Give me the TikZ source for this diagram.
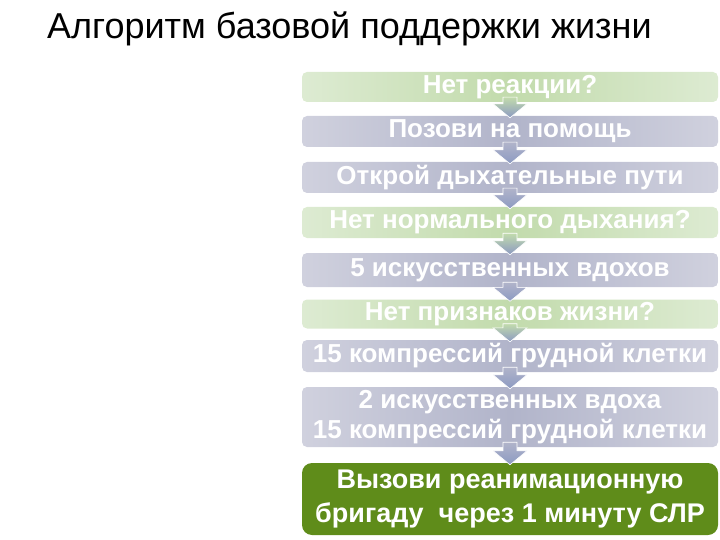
\documentclass[tikz,border=0pt]{standalone}
\usepackage{fontspec}
\setmainfont{Liberation Sans}
\usetikzlibrary{calc}
\definecolor{grnL}{HTML}{DDEBD2}
\definecolor{grnM}{HTML}{C2DBAC}
\definecolor{gryL}{HTML}{D0D1DE}
\definecolor{gryM}{HTML}{B1B4CA}
\definecolor{dkgrn}{HTML}{5F8C1A}
\definecolor{arrB}{HTML}{8C9AC2}
\tikzset{
  box/.style={rounded corners=5pt, minimum width=416pt, inner sep=0pt, text=white,
    font=\bfseries\fontsize{26}{30}\selectfont, align=center},
  gbox/.style={box, left color=grnL, right color=grnL, middle color=grnM},
  sbox/.style={box, left color=gryL, right color=gryL, middle color=gryM},
  fbox/.style={box, rounded corners=10pt, fill=dkgrn, font=\bfseries\fontsize{27}{34}\selectfont},
  flow/.style={draw=white, line width=0.6pt, bottom color=arrB},
}
\newcommand{\flowarrow}[3]{%
  \path[flow, top color=#3]
    ($(#1.south)+(-7,-5)$) -- ($(#1.south)+(7,-5)$) --
    ($(#2.north)+(7,-12)$) -- ($(#2.north)+(17,-12)$) --
    ($(#2.north)+(0,2)$) -- ($(#2.north)+(-17,-12)$) --
    ($(#2.north)+(-7,-12)$) -- cycle;}
\begin{document}
\begin{tikzpicture}[x={(1pt,0)}, y={(0,-1pt)}]
\useasboundingbox (0,0) rectangle (720,540);
\node[anchor=base west, inner sep=0pt, font=\fontsize{36}{40}\selectfont] (title) at (47,39) {Алгоритм базовой поддержки жизни};
\node[gbox, minimum height=30pt] (b1) at (510,87) {Нет реакции?};
\node[sbox, minimum height=31pt] (b2) at (510,131.5) {Позови на помощь};
\node[sbox, minimum height=31pt] (b3) at (510,177.5) {Открой дыхательные пути};
\node[gbox, minimum height=31pt] (b4) at (510,222.5) {Нет нормального дыхания?};
\node[sbox, minimum height=34pt] (b5) at (510,270) {5 искусственных вдохов};
\node[gbox, minimum height=29pt] (b6) at (510,314) {Нет признаков жизни?};
\node[sbox, minimum height=32pt] (b7) at (510,356) {15 компрессий грудной клетки};
\node[sbox, minimum height=60pt] (b8) at (510,417) {2 искусственных вдоха\\15 компрессий грудной клетки};
\node[fbox, minimum height=72pt] (b9) at (510,499) {\raisebox{-2pt}{Вызови реанимационную}\\\raisebox{-2pt}{бригаду~ через 1 минуту СЛР}};
\flowarrow{b1}{b2}{grnM}
\flowarrow{b2}{b3}{gryM}
\flowarrow{b3}{b4}{gryM}
\flowarrow{b4}{b5}{grnM}
\flowarrow{b5}{b6}{gryM}
\flowarrow{b6}{b7}{grnM}
\flowarrow{b7}{b8}{gryM}
\flowarrow{b8}{b9}{gryM}
\end{tikzpicture}
\end{document}
